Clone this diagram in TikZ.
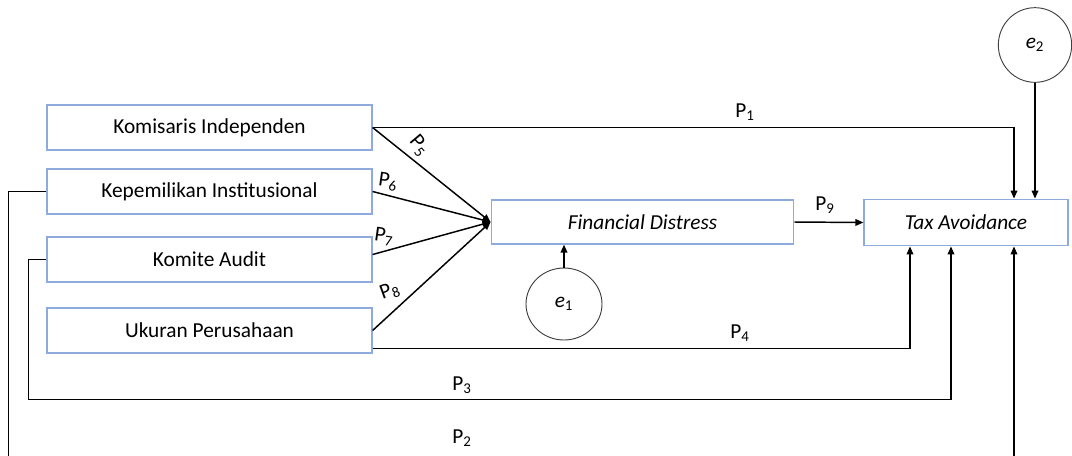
\documentclass[tikz,border=0pt]{standalone}
\usepackage{fontspec}
\setmainfont{Carlito}
\usepackage{xcolor}
\usetikzlibrary{shapes,arrows.meta,positioning,calc}
\definecolor{boxblue}{RGB}{143,170,220}

\begin{document}
\begin{tikzpicture}[
    x=0.75pt, y=-0.75pt,
    varbox/.style={rectangle, draw=boxblue, line width=0.9pt, fill=white, align=center, minimum height=33.75pt, minimum width=243.75pt, font=\fontsize{16}{19}\selectfont},
    midbox/.style={varbox, minimum width=227pt, minimum height=33pt, font=\fontsize{16}{19}\selectfont\itshape},
    errc/.style={ellipse, draw=black!75, line width=0.7pt, inner sep=0pt, font=\fontsize{16}{19}\selectfont},
    arrow/.style={-{Triangle[length=6pt, width=5pt]}, line width=1.1pt},
    lab/.style={inner sep=0pt, font=\fontsize{16}{19}\selectfont}
]
    \useasboundingbox (0,0) rectangle (1072,455);
    \clip (0,0) rectangle (1072,455);

    \node [varbox] (v1) at (209.5,127.5) {Komisaris Independen};
    \node [varbox] (v2) at (209.5,191.5) {Kepemilikan Institusional};
    \node [varbox] (v3) at (209.5,259.5) {Komite Audit};
    \node [varbox] (v4) at (209.5,330.5) {Ukuran Perusahaan};
    \node [midbox] (fd) at (642.5,222) {Financial Distress};
    \node [midbox, minimum width=153pt, minimum height=35pt] (ta) at (966,222.5) {Tax Avoidance};
    \node [errc, minimum width=57pt, minimum height=54pt] (e1) at (564,304) {\textit{e}\textsubscript{1}};
    \node [errc, minimum width=55pt, minimum height=56pt] (e2) at (1035,45) {\textit{e}\textsubscript{2}};

    % direct paths
    \draw [arrow] (v1.east) -| ($(ta.north)+(48,0)$);
    \draw [arrow] (v4.east)+(0,18) -| ($(ta.south)+(-56,0)$);
    \draw [arrow] (v3.west) -| ++(-18,140) -| ($(ta.south)+(-15,0)$);
    \draw [arrow] (v2.west) -| ++(-38,300) -| ($(ta.south)+(48,0)$);

    % paths to financial distress
    \draw [arrow] (v1.east) -- (fd.west);
    \draw [arrow] (v2.east) -- (fd.west);
    \draw [arrow] ($(v3.east)+(0,-5)$) -- (fd.west);
    \draw [arrow] (v4.east) -- (fd.west);
    \draw [arrow] (fd.east) -- (ta.west);

    % error terms
    \draw [arrow] (e1.north) -- (e1 |- fd.south);
    \draw [arrow] (e2.south) -- (e2 |- ta.north);

    \node [lab] (l1) at (745,112) {P\textsubscript{1}};
    \node [lab] (l2) at (462,438) {P\textsubscript{2}};
    \node [lab] (l3) at (462,385) {P\textsubscript{3}};
    \node [lab] (l4) at (740,333) {P\textsubscript{4}};
    \node [lab, rotate=-50] (l5) at (419,146) {P\textsubscript{5}};
    \node [lab, rotate=-8] (l6) at (388,182) {P\textsubscript{6}};
    \node [lab, rotate=-8] (l7) at (384,237) {P\textsubscript{7}};
    \node [lab, rotate=20] (l8) at (390,291) {P\textsubscript{8}};
    \node [lab] (l9) at (825,205) {P\textsubscript{9}};
\end{tikzpicture}
\end{document}
